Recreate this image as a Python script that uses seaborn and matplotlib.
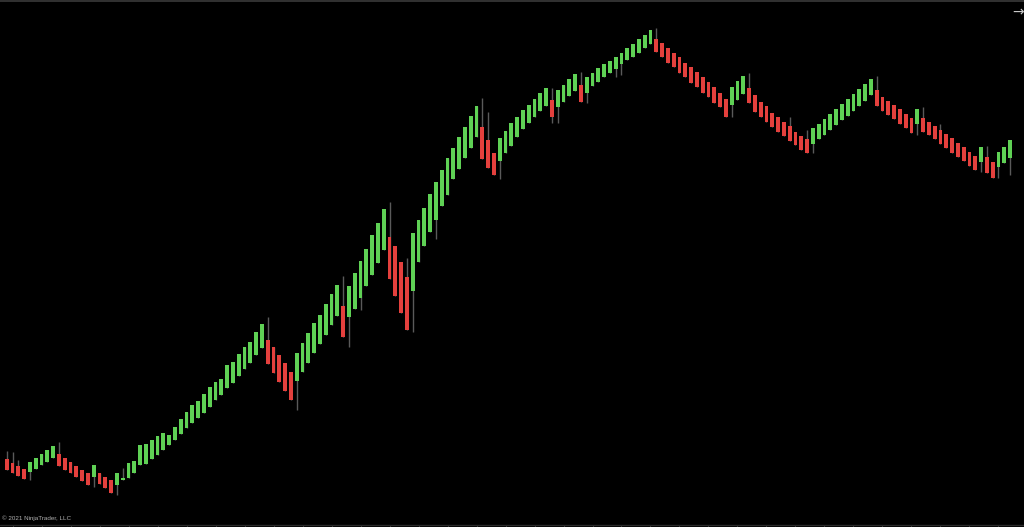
import matplotlib
matplotlib.use("Agg")
import matplotlib.pyplot as plt
import numpy as np
import seaborn as sns

# Renko style bars (price units)
opens = [41, 37, 34, 31, 28, 31, 35, 38, 42, 46,
         42, 38, 34, 30, 27, 23, 27, 23, 20, 15,
         20, 22, 27, 35, 36, 41, 45, 50, 55, 60,
         66, 72, 77, 82, 87, 93, 100, 105, 112, 117,
         124, 131, 137, 145, 152, 160, 153, 145, 137, 128,
         119, 128, 137, 147, 156, 165, 175, 184, 194, 183,
         191, 202, 214, 225, 237, 250, 263, 254, 238, 223,
         209, 238, 254, 268, 280, 294, 305, 321, 331, 342,
         352, 363, 373, 360, 347, 339, 347, 354, 363, 371,
         377, 383, 389, 394, 400, 393, 398, 404, 409, 415,
         407, 414, 418, 423, 427, 431, 436, 440, 443, 447,
         452, 456, 461, 457, 452, 447, 443, 437, 433, 428,
         423, 418, 413, 407, 401, 395, 400, 406, 412, 405,
         398, 394, 387, 383, 378, 374, 368, 364, 361, 356,
         361, 365, 370, 375, 380, 384, 389, 394, 399, 405,
         410, 403, 399, 395, 391, 386, 382, 376, 382, 378,
         374, 370, 366, 362, 357, 353, 348, 344, 338, 343,
         338, 333, 337, 342]
closes = [30, 27, 24, 21, 38, 42, 46, 50, 54, 34,
          30, 27, 23, 19, 15, 35, 16, 12, 7, 27,
          22, 37, 39, 55, 56, 60, 64, 67, 65, 73,
          81, 88, 95, 99, 106, 113, 118, 121, 135, 138,
          146, 153, 158, 168, 176, 136, 127, 118, 109, 100,
          147, 157, 167, 177, 185, 196, 206, 215, 163, 214,
          227, 239, 251, 265, 277, 291, 221, 204, 187, 170,
          267, 280, 292, 306, 318, 330, 342, 352, 363, 373,
          384, 394, 341, 332, 325, 362, 369, 377, 383, 390,
          395, 401, 407, 412, 383, 410, 415, 421, 426, 398,
          423, 427, 432, 436, 439, 443, 447, 452, 456, 461,
          465, 470, 448, 443, 437, 433, 427, 423, 417, 413,
          407, 403, 397, 393, 383, 413, 419, 424, 397, 388,
          383, 378, 373, 368, 364, 359, 355, 350, 347, 372,
          376, 381, 386, 391, 396, 401, 406, 411, 416, 421,
          394, 389, 385, 381, 376, 372, 367, 391, 368, 365,
          361, 356, 352, 347, 343, 339, 334, 330, 353, 327,
          322, 348, 353, 360]
highs = [49, 48, 40, 31, 38, 42, 46, 50, 54, 58,
         42, 38, 34, 30, 27, 35, 27, 23, 20, 27,
         32, 37, 39, 55, 56, 60, 64, 67, 65, 73,
         81, 88, 95, 99, 106, 113, 118, 121, 135, 138,
         146, 153, 158, 168, 176, 183, 153, 145, 137, 128,
         147, 157, 167, 177, 185, 196, 206, 215, 224, 214,
         227, 239, 251, 265, 277, 291, 298, 254, 238, 242,
         267, 280, 292, 306, 318, 330, 342, 352, 363, 373,
         384, 394, 402, 388, 347, 362, 369, 377, 383, 390,
         395, 401, 407, 412, 412, 410, 415, 421, 426, 428,
         423, 427, 432, 436, 439, 443, 447, 452, 456, 461,
         465, 470, 472, 457, 452, 447, 443, 437, 433, 428,
         423, 418, 413, 407, 401, 413, 419, 424, 427, 405,
         398, 394, 387, 383, 378, 383, 368, 364, 370, 372,
         376, 381, 386, 391, 396, 401, 406, 411, 416, 421,
         424, 403, 399, 395, 391, 386, 382, 391, 393, 378,
         374, 376, 366, 362, 357, 353, 348, 344, 353, 354,
         338, 348, 353, 360]
lows = [30, 27, 24, 21, 20, 31, 35, 38, 42, 34,
        30, 27, 23, 19, 15, 13, 16, 12, 7, 5,
        20, 22, 27, 35, 36, 41, 45, 50, 55, 60,
        66, 72, 77, 82, 87, 93, 100, 105, 112, 117,
        124, 131, 137, 145, 152, 136, 127, 118, 109, 100,
        90, 128, 137, 147, 156, 165, 175, 184, 163, 153,
        191, 190, 214, 225, 237, 250, 221, 204, 187, 170,
        168, 238, 254, 268, 261, 294, 305, 321, 331, 342,
        352, 363, 341, 332, 325, 321, 347, 354, 363, 371,
        377, 383, 389, 394, 377, 377, 398, 404, 409, 398,
        397, 414, 418, 423, 427, 423, 425, 440, 443, 447,
        452, 456, 448, 443, 437, 433, 427, 423, 417, 413,
        407, 403, 397, 393, 383, 383, 400, 406, 397, 388,
        383, 378, 373, 368, 364, 359, 355, 350, 347, 347,
        361, 365, 370, 375, 380, 384, 389, 394, 399, 405,
        394, 389, 385, 381, 376, 372, 367, 365, 368, 365,
        361, 356, 352, 347, 343, 339, 334, 330, 328, 327,
        322, 322, 337, 325]

up_color = "#5fd155"
down_color = "#e4403d"
wick_color = "#5a5a5a"

sns.set_theme(style="dark", rc={
    "axes.facecolor": "black",
    "figure.facecolor": "black",
    "savefig.facecolor": "black",
})

o = np.array(opens)
c = np.array(closes)
x = np.arange(len(o))
colors = [up_color if cc >= oo else down_color for oo, cc in zip(o, c)]

fig = plt.figure(figsize=(10.24, 5.27), dpi=100)
ax = fig.add_axes([0, 0, 1, 1])

# wicks behind bodies
ax.vlines(x, lows, highs, color=wick_color, linewidth=1.0, zorder=1)
body_bottom = np.minimum(o, c)
body_height = np.maximum(np.abs(c - o), 1.5)
ax.bar(x, body_height, bottom=body_bottom, width=0.68, color=colors,
       edgecolor="none", zorder=2)

ax.set_xlim(-1.16, 175.4)
ax.set_ylim(-27, 500)
ax.set_axis_off()

# chart frame bits
fig.add_artist(plt.Line2D([0, 1], [0.999, 0.999], transform=fig.transFigure,
                          color="#3a3a3a", linewidth=1.2))
fig.add_artist(plt.Line2D([0, 1], [0.004, 0.004], transform=fig.transFigure,
                          color="#2a2a2a", linewidth=1.0))
ax.vlines(x[1::5], -27, -24.5, color="#3a3a3a", linewidth=0.8)

fig.text(0.002, 0.012, "© 2021 NinjaTrader, LLC", color="#b0b0b0",
         fontsize=4.5, family="Liberation Sans", ha="left", va="bottom")
fig.text(0.9945, 0.976, "→", color="#c8c8c8", fontsize=10,
         ha="center", va="center")

fig.savefig("out.png", dpi=100, facecolor="black")
